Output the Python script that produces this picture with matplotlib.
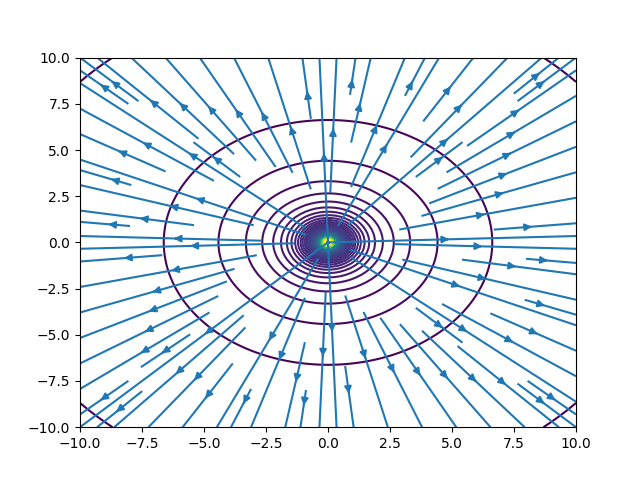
import numpy as np
import matplotlib
matplotlib.use("Agg")
import matplotlib.pyplot as plt

# Data: a single point charge
charge_x = [0.0]
charge_y = [0.0]
charge_q = [1.0]
x_limits = [-10.0, 10.0]
y_limits = [-10.0, 10.0]
grid_points = 100
level_step = 0.0755
n_levels = 92

x = np.linspace(x_limits[0], x_limits[1], grid_points)
y = np.linspace(y_limits[0], y_limits[1], grid_points)
X, Y = np.meshgrid(x, y)

V = np.zeros_like(X)
Ex = np.zeros_like(X)
Ey = np.zeros_like(X)
for cx, cy, q in zip(charge_x, charge_y, charge_q):
    dx = X - cx
    dy = Y - cy
    r = np.hypot(dx, dy)
    V += q / r
    Ex += q * dx / r**3
    Ey += q * dy / r**3

levels = level_step * np.arange(1, n_levels + 1)

fig, ax = plt.subplots(figsize=(6.4, 4.8), dpi=100)
ax.contour(X, Y, V, levels=levels, cmap="viridis")
ax.streamplot(X, Y, Ex, Ey)
ax.set_xlim(x_limits)
ax.set_ylim(y_limits)
fig.savefig("out.png", dpi=100)
